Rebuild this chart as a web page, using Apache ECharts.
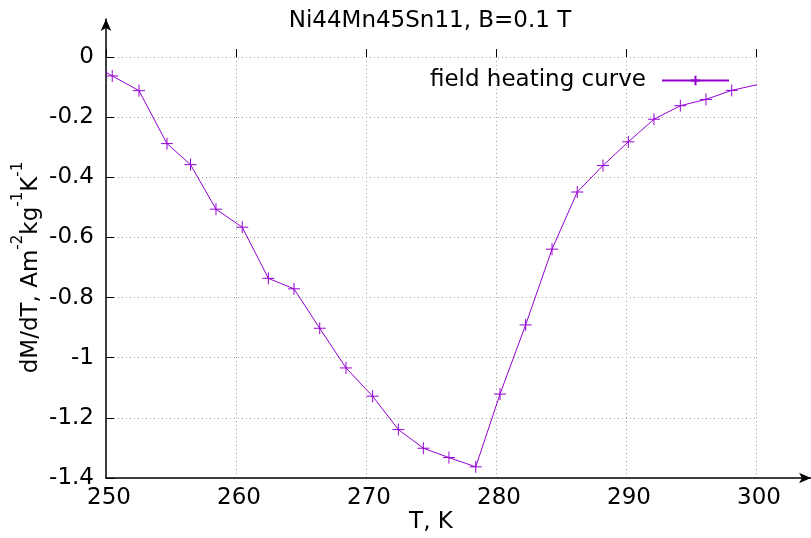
<!DOCTYPE html>
<html>
<head>
<meta charset="utf-8">
<script src="https://cdn.jsdelivr.net/npm/echarts@6/dist/echarts.min.js"></script>
<style>html,body{margin:0;padding:0;background:#fff}#c{width:811px;height:538px}</style>
</head>
<body>
<div id="c"></div>
<script>
// Data
var temperature = [248.5, 250.48, 252.54, 254.69, 256.5, 258.46, 260.48, 262.49, 264.46, 266.44, 268.46, 270.51, 272.49, 274.41, 276.38, 278.44, 280.31, 282.28, 284.31, 286.25, 288.23, 290.18, 292.15, 294.18, 296.15, 298.13, 300.1];
var dMdT = [-0.013, -0.063, -0.112, -0.288, -0.358, -0.506, -0.566, -0.736, -0.771, -0.902, -1.034, -1.128, -1.239, -1.301, -1.332, -1.363, -1.121, -0.891, -0.639, -0.449, -0.361, -0.282, -0.207, -0.162, -0.141, -0.111, -0.092];
var seriesName = 'field heating curve';
var titleText = 'Ni44Mn45Sn11, B=0.1 T';
var xName = 'T, K';
var xMin = 250, xMax = 300, xStep = 10;
var yMin = -1.4, yMax = 0, yStep = 0.2;

var FONT = 'DejaVu Sans';
var FS = 23;
var COLOR = '#9400d3';
var points = temperature.map(function (t, i) { return [t, dMdT[i]]; });

var chart = echarts.init(document.getElementById('c'), null, {renderer: 'canvas'});
var gridLine = {show: true, lineStyle: {color: '#a0a0a0', width: 1, type: [1, 3]}};
chart.setOption({
  animation: false,
  backgroundColor: '#fff',
  title: {
    text: titleText, left: 430, top: 10, textAlign: 'center', padding: 0,
    textStyle: {fontFamily: FONT, fontSize: FS, fontWeight: 'normal', color: '#000'}
  },
  legend: {
    data: [seriesName], right: 81, top: 69, align: 'right', padding: 0,
    itemWidth: 67, itemHeight: 12,
    textStyle: {fontFamily: FONT, fontSize: FS, color: '#000', padding: [0, 11, 0, 0]}
  },
  grid: [
    {left: 106, right: 55, top: 57, bottom: 60, containLabel: false, outerBoundsMode: 'none'},
    {left: 106, right: 0, top: 19, bottom: 60, containLabel: false, outerBoundsMode: 'none'}
  ],
  xAxis: [{
    type: 'value', gridIndex: 0, min: xMin, max: xMax, interval: xStep,
    name: xName, nameLocation: 'middle', nameGap: 33, nameMoveOverlap: false,
    nameTextStyle: {fontFamily: FONT, fontSize: FS, color: '#000'},
    axisLine: {show: false},
    axisTick: {show: true, inside: true, length: 8, lineStyle: {color: '#000', width: 1}},
    axisLabel: {fontFamily: FONT, fontSize: FS, color: '#000', margin: 9, padding: [0, 0, 0, 6]},
    splitLine: gridLine
  }, {
    type: 'value', gridIndex: 1, min: 0, max: 1,
    axisLine: {show: true, symbol: ['none', 'arrow'], symbolSize: [8, 12], lineStyle: {color: '#000', width: 1.5}},
    axisTick: {show: false}, axisLabel: {show: false}, splitLine: {show: false}
  }],
  yAxis: [{
    type: 'value', gridIndex: 0, min: yMin, max: yMax, interval: yStep,
    name: 'dM/dT, Am{s|-2}kg{s|-1}K{s|-1}', nameLocation: 'middle', nameGap: 55, nameRotate: 90,
    nameMoveOverlap: false,
    nameTextStyle: {
      fontFamily: FONT, fontSize: FS, color: '#000', lineHeight: 40,
      rich: {s: {fontFamily: FONT, fontSize: 15, color: '#000', lineHeight: 15, verticalAlign: 'top'}}
    },
    axisLine: {show: false},
    axisTick: {show: true, inside: true, length: 8, lineStyle: {color: '#000', width: 1}},
    axisLabel: {fontFamily: FONT, fontSize: FS, color: '#000', margin: 12},
    splitLine: gridLine
  }, {
    type: 'value', gridIndex: 1, min: 0, max: 1,
    axisLine: {show: true, symbol: ['none', 'arrow'], symbolSize: [8, 12], lineStyle: {color: '#000', width: 1.5}},
    axisTick: {show: false}, axisLabel: {show: false}, splitLine: {show: false}
  }],
  series: [{
    name: seriesName, type: 'line', xAxisIndex: 0, yAxisIndex: 0,
    data: points, clip: true,
    symbol: 'path://M0,-1L0,1M-1,0L1,0', symbolSize: 12, showAllSymbol: true,
    itemStyle: {color: 'rgba(0,0,0,0)', borderColor: COLOR, borderWidth: 1},
    lineStyle: {color: COLOR, width: 1},
    emphasis: {disabled: true}
  }]
});
</script>
</body>
</html>
